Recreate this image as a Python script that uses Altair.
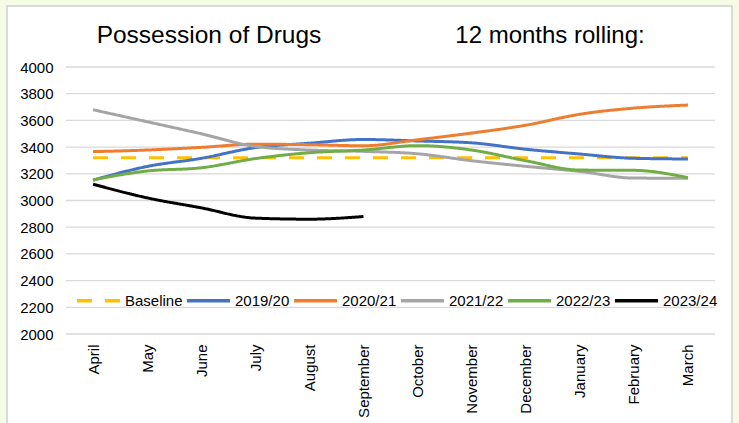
import altair as alt
import pandas as pd

# Month order of the financial year
months = ["April", "May", "June", "July", "August", "September",
          "October", "November", "December", "January", "February", "March"]

# 12-month rolling totals for possession of drugs offences
baseline = [3320, 3320, 3320, 3320, 3320, 3320, 3320, 3320, 3320, 3320, 3320, 3320]
fy_2019_20 = [3152, 3255, 3316, 3396, 3429, 3457, 3446, 3432, 3384, 3348, 3316, 3311]
fy_2020_21 = [3366, 3378, 3398, 3422, 3418, 3410, 3455, 3505, 3564, 3646, 3692, 3715]
fy_2021_22 = [3680, 3590, 3500, 3405, 3378, 3368, 3350, 3298, 3256, 3218, 3168, 3167]
fy_2022_23 = [3155, 3221, 3245, 3314, 3358, 3378, 3411, 3378, 3298, 3228, 3226, 3171]
fy_2023_24 = [3122, 3020, 2945, 2868, 2860, 2880]

series_names = ["Baseline", "2019/20", "2020/21", "2021/22", "2022/23", "2023/24"]
series_values = [baseline, fy_2019_20, fy_2020_21, fy_2021_22, fy_2022_23, fy_2023_24]
series_colors = ["#FFC000", "#4472C4", "#ED7D31", "#A5A5A5", "#70AD47", "#000000"]
series_dashes = [[15, 13], [1, 0], [1, 0], [1, 0], [1, 0], [1, 0]]

y_ticks = [2000, 2200, 2400, 2600, 2800, 3000, 3200, 3400, 3600, 3800, 4000]

rows = []
for name, values in zip(series_names, series_values):
    for month, value in zip(months, values):
        rows.append({"series": name, "month": month, "value": value})
df = pd.DataFrame(rows)
grid_df = pd.DataFrame({"tick": y_ticks})

FONT = "Liberation Sans"
W, H = 649, 267

x_enc = alt.X("month:N", sort=months,
              scale=alt.Scale(type="point", padding=0.5),
              axis=alt.Axis(title=None, labelAngle=270, labelAlign="right",
                            labelBaseline="middle", labelPadding=10,
                            labelFont=FONT, labelFontSize=15, labelColor="#000000",
                            domain=False, ticks=False, grid=False, zindex=2))
y_scale = alt.Scale(domain=[2000, 4000], nice=False, zero=False)
y_axis = alt.Axis(title=None, values=y_ticks, format="d", labelPadding=13,
                  labelFont=FONT, labelFontSize=15, labelColor="#000000",
                  domain=False, ticks=False, grid=False, zindex=2)

legend = alt.Legend(
    title=None, orient="none", direction="horizontal",
    legendX=9, legendY=210, padding=0,
    symbolType="stroke", symbolSize=1849, symbolStrokeWidth=3.5,
    labelFont=FONT, labelFontSize=15, labelColor="#000000",
    labelOffset=3, columnPadding=-3, zindex=2,
)

# Horizontal gridlines, drawn beneath the series
grid = alt.Chart(grid_df).mark_rule(color="#D9D9D9", strokeWidth=1.3).encode(
    y=alt.Y("tick:Q", scale=y_scale, axis=y_axis),
    x=alt.value(0), x2=alt.value(W),
)

lines = alt.Chart(df).mark_line(strokeWidth=3, interpolate="monotone").encode(
    x=x_enc,
    y=alt.Y("value:Q", scale=y_scale, axis=y_axis),
    color=alt.Color("series:N", sort=series_names,
                    scale=alt.Scale(domain=series_names, range=series_colors),
                    legend=legend),
    strokeDash=alt.StrokeDash("series:N", sort=series_names,
                              scale=alt.Scale(domain=series_names, range=series_dashes),
                              legend=legend),
)

one_row = pd.DataFrame({"k": [0]})

# White chart panel with thin grey border
panel = alt.Chart(one_row).mark_rect(fill="white", stroke="#D0D0D0", strokeWidth=1.5).encode(
    x=alt.value(-59), x2=alt.value(666), y=alt.value(-61), y2=alt.value(420)
)

title_left = alt.Chart(one_row).mark_text(
    font=FONT, fontSize=24.5, color="#000000", align="center", baseline="alphabetic"
).encode(x=alt.value(143), y=alt.value(-24), text=alt.value("Possession of Drugs"))

title_right = alt.Chart(one_row).mark_text(
    font=FONT, fontSize=24, color="#000000", align="center", baseline="alphabetic"
).encode(x=alt.value(484), y=alt.value(-24), text=alt.value("12 months rolling:"))

chart = alt.layer(panel, grid, lines, title_left, title_right).properties(
    width=W, height=H,
    autosize=alt.AutoSizeParams(type="none"),
    padding={"left": 66, "top": 67, "right": 24, "bottom": 89},
    background="#F5FBE4",
).configure_view(stroke=None)

chart.save("out.html", embed_options={"renderer": "svg", "actions": False})
